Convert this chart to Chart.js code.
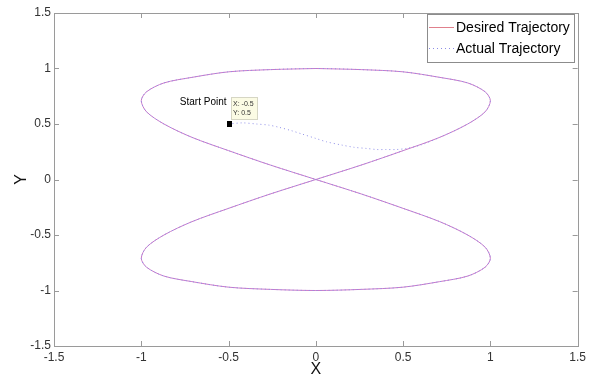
<!DOCTYPE html>
<html><head><meta charset="utf-8">
<script src="https://cdn.jsdelivr.net/npm/chart.js@4/dist/chart.umd.min.js"></script>
<style>html,body{margin:0;padding:0;background:#fff;}#wrap{width:590px;height:381px;}</style>
</head><body><div id="wrap"><canvas id="c" width="590" height="381"></canvas></div>
<script>
// ---- data ----
const desiredX = [0,0.26,0.5,0.71,0.87,0.97,1,0.97,0.87,0.71,0.5,0.26,0,-0.26,-0.5,-0.71,-0.87,-0.97,-1,-0.97,-0.87,-0.71,-0.5,-0.26,0,0.26,0.5,0.71,0.87,0.97,1,0.97,0.87,0.71,0.5,0.26,0,-0.26,-0.5,-0.71,-0.87,-0.97,-1,-0.97,-0.87,-0.71,-0.5,-0.26,0];
const desiredY = [1,0.99,0.97,0.92,0.87,0.79,0.71,0.61,0.5,0.38,0.26,0.13,0,-0.13,-0.26,-0.38,-0.5,-0.61,-0.71,-0.79,-0.87,-0.92,-0.97,-0.99,-1,-0.99,-0.97,-0.92,-0.87,-0.79,-0.71,-0.61,-0.5,-0.38,-0.26,-0.13,0,0.13,0.26,0.38,0.5,0.61,0.71,0.79,0.87,0.92,0.97,0.99,1];
const actualX = [-0.5,-0.42,-0.34,-0.27,-0.21,-0.14,-0.08,0,0.06,0.15,0.22,0.29,0.35,0.4,0.46,0.52,0.6,0.71,0.87,0.97,1,0.97,0.87,0.71,0.5,0.26,0,-0.26,-0.5,-0.71,-0.87,-0.97,-1,-0.97,-0.87,-0.71,-0.5,-0.26,0,0.26,0.5,0.71,0.87,0.97,1,0.97,0.87,0.71,0.5,0.26,0,-0.26,-0.5,-0.71,-0.87,-0.97,-1,-0.97,-0.87,-0.71,-0.5,-0.26,0,0.26,0.5];
const actualY = [0.5,0.51,0.5,0.49,0.47,0.44,0.41,0.37,0.34,0.31,0.29,0.28,0.27,0.27,0.27,0.28,0.31,0.38,0.5,0.61,0.71,0.79,0.87,0.92,0.97,0.99,1,0.99,0.97,0.92,0.87,0.79,0.71,0.61,0.5,0.38,0.26,0.13,0,-0.13,-0.26,-0.38,-0.5,-0.61,-0.71,-0.79,-0.87,-0.92,-0.97,-0.99,-1,-0.99,-0.97,-0.92,-0.87,-0.79,-0.71,-0.61,-0.5,-0.38,-0.26,-0.13,0,0.13,0.26];
const tickValues = [-1.5,-1,-0.5,0,0.5,1,1.5];
const seriesNames = ['Desired Trajectory','Actual Trajectory'];
const startPoint = [-0.5, 0.5];
const startLabel = 'Start Point';
const axisTitles = ['X','Y'];

const FONT = '"Liberation Sans", Arial, sans-serif';
const toPts = (xs, ys) => xs.map((x, i) => ({x: x, y: ys[i]}));
const legendLineColors = ['#e0808c', '#8c8ce6'];

const boxPlugin = {
  id: 'matlabBox',
  afterDraw(chart) {
    const ctx = chart.ctx, a = chart.chartArea;
    const sx = chart.scales.x, sy = chart.scales.y;
    ctx.save();
    ctx.strokeStyle = '#9a9a9a';
    ctx.lineWidth = 1;
    ctx.strokeRect(Math.round(a.left) + 0.5, Math.round(a.top) + 0.5, Math.round(a.right - a.left), Math.round(a.bottom - a.top));
    ctx.beginPath();
    tickValues.forEach(v => {
      const px = Math.round(sx.getPixelForValue(v)) + 0.5;
      ctx.moveTo(px, a.bottom); ctx.lineTo(px, a.bottom - 5);
      ctx.moveTo(px, a.top); ctx.lineTo(px, a.top + 5);
      const py = Math.round(sy.getPixelForValue(v)) + 0.5;
      ctx.moveTo(a.left, py); ctx.lineTo(a.left + 5, py);
      ctx.moveTo(a.right, py); ctx.lineTo(a.right - 5, py);
    });
    ctx.stroke();

    // start point marker and data tip
    const mx = sx.getPixelForValue(startPoint[0]), my = sy.getPixelForValue(startPoint[1]);
    ctx.fillStyle = '#000';
    ctx.fillRect(Math.round(mx) - 2, Math.round(my) - 3, 5, 6);
    ctx.fillStyle = '#fbfbe4';
    ctx.strokeStyle = '#d6d6c4';
    ctx.fillRect(Math.round(mx) + 2, Math.round(my) - 27, 27, 23);
    ctx.strokeRect(Math.round(mx) + 2.5, Math.round(my) - 26.5, 26, 22);
    ctx.fillStyle = '#333';
    ctx.font = '7px ' + FONT;
    ctx.textBaseline = 'middle';
    ctx.textAlign = 'left';
    ctx.fillText('X: ' + startPoint[0], Math.round(mx) + 4, my - 20);
    ctx.fillText('Y: ' + startPoint[1], Math.round(mx) + 4, my - 11);
    ctx.fillStyle = '#000';
    ctx.font = '10px ' + FONT;
    ctx.textAlign = 'right';
    ctx.fillText(startLabel, mx - 2, my - 22);

    // legend
    const lx = 427, ly = 14, lw = 147, lh = 48;
    ctx.fillStyle = '#fff';
    ctx.fillRect(lx, ly, lw, lh);
    ctx.strokeStyle = '#8c8c8c';
    ctx.strokeRect(lx + 0.5, ly + 0.5, lw, lh);
    ctx.font = '14px ' + FONT;
    ctx.textAlign = 'left';
    chart.data.datasets.forEach((ds, i) => {
      const yy = ly + 13.5 + i * 21;
      ctx.strokeStyle = legendLineColors[i];
      ctx.lineWidth = 1;
      ctx.setLineDash(ds.borderDash || []);
      ctx.beginPath();
      ctx.moveTo(lx + 2, yy); ctx.lineTo(lx + 27, yy);
      ctx.stroke();
      ctx.setLineDash([]);
      ctx.fillStyle = '#000';
      ctx.fillText(ds.label, lx + 29, yy + 0.5);
    });
    ctx.restore();
  }
};

new Chart(document.getElementById('c'), {
  type: 'scatter',
  data: {
    datasets: [
      { label: seriesNames[0], data: toPts(desiredX, desiredY), showLine: true, borderColor: '#c878c8', borderWidth: 1, pointRadius: 0, tension: 0.3, order: 2 },
      { label: seriesNames[1], data: toPts(actualX, actualY), showLine: true, borderColor: '#9090e8', borderWidth: 1, borderDash: [1, 3], pointRadius: 0, tension: 0.3, order: 1 }
    ]
  },
  options: {
    responsive: false, animation: false, devicePixelRatio: 1,
    layout: { padding: { top: 13, right: 11, left: 0, bottom: 0 } },
    plugins: { legend: { display: false }, tooltip: { enabled: false } },
    scales: {
      x: {
        type: 'linear', min: -1.5, max: 1.5,
        afterBuildTicks: s => { s.ticks = tickValues.map(v => ({value: v})); },
        afterFit: s => { s.height = 35; },
        grid: { drawOnChartArea: false, drawTicks: false },
        border: { display: false },
        ticks: { padding: 4, color: '#333', font: { family: FONT, size: 12 }, maxRotation: 0, autoSkip: false, callback: v => String(v) },
        title: { display: true, text: axisTitles[0], color: '#111', font: { family: FONT, size: 16 }, padding: { top: 0, bottom: 2 } }
      },
      y: {
        type: 'linear', min: -1.5, max: 1.5,
        afterBuildTicks: s => { s.ticks = tickValues.map(v => ({value: v})); },
        afterFit: s => { s.width = 54; },
        grid: { drawOnChartArea: false, drawTicks: false },
        border: { display: false },
        ticks: { padding: 3, color: '#333', font: { family: FONT, size: 12 }, autoSkip: false, callback: v => String(v) },
        title: { display: true, text: axisTitles[1], color: '#111', font: { family: FONT, size: 16 }, padding: { top: 12, bottom: 0 } }
      }
    }
  },
  plugins: [boxPlugin]
});
</script></body></html>
